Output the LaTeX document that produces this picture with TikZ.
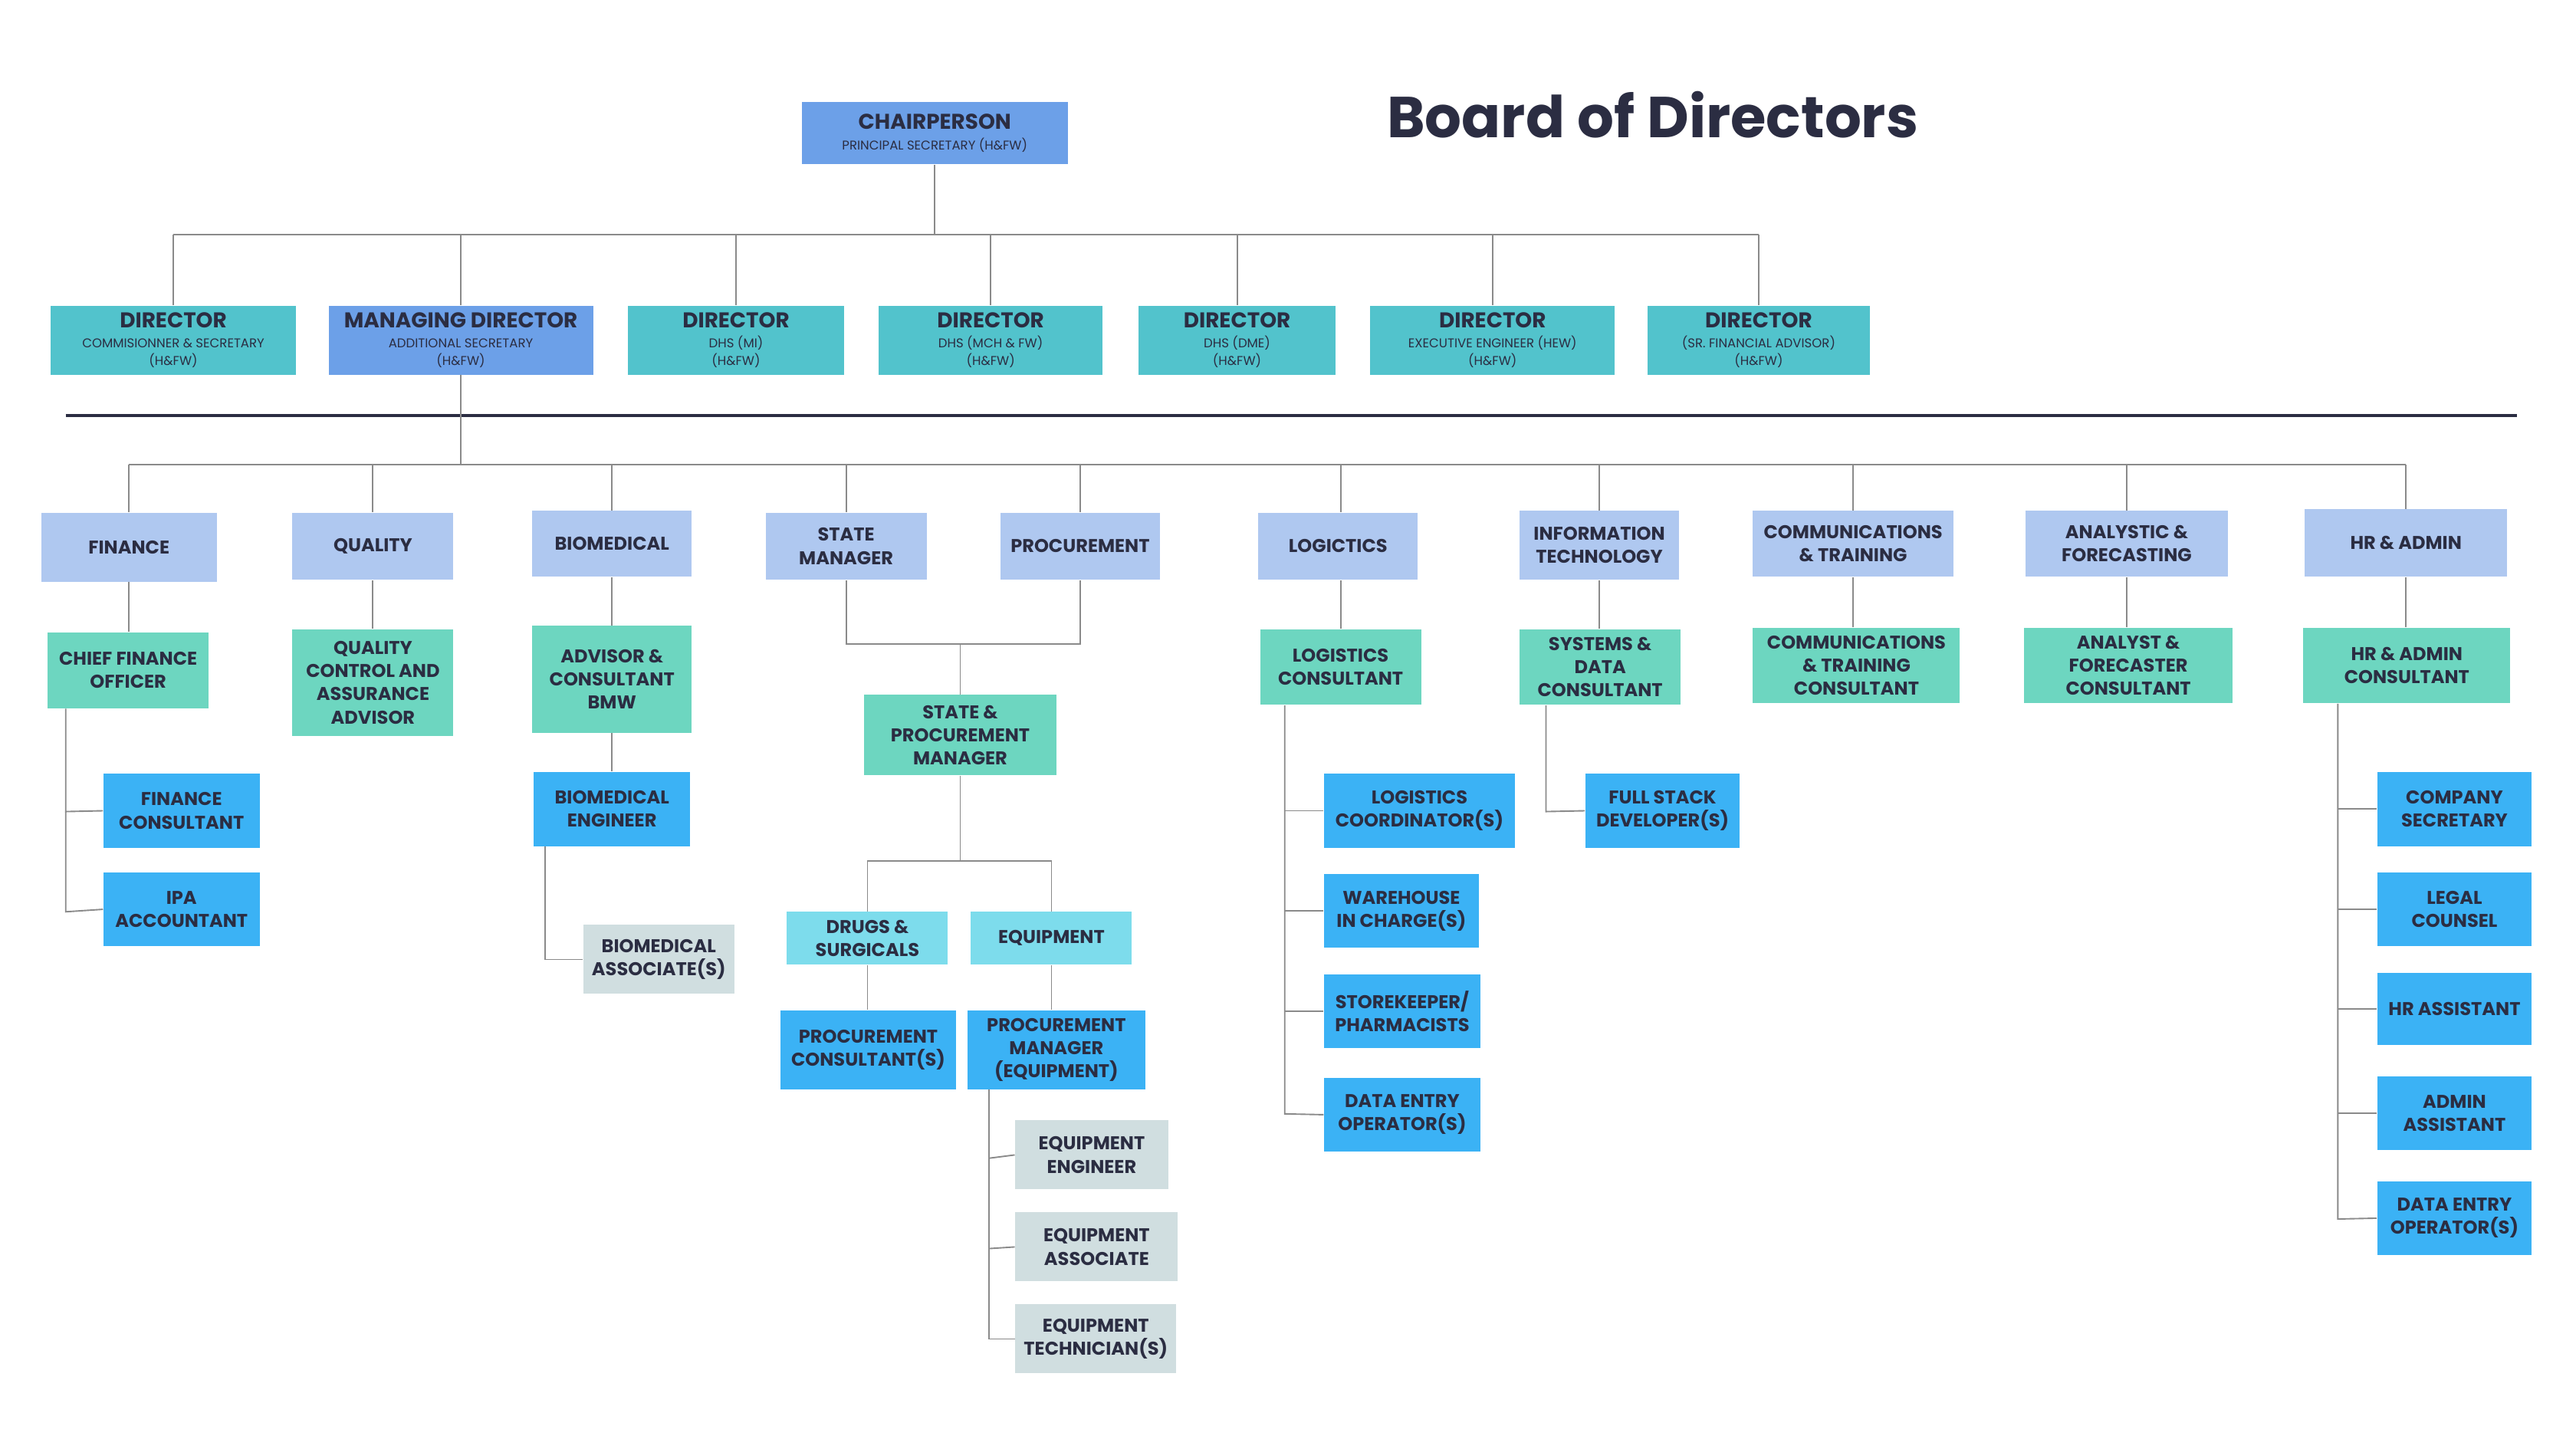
\documentclass[tikz,border=0pt]{standalone}
\usepackage{fontspec}
\setmainfont{Poppins}
\definecolor{navy}{HTML}{2B2D42}
\definecolor{topb}{HTML}{6CA0E8}
\definecolor{teal}{HTML}{52C3CC}
\definecolor{dept}{HTML}{AFC8F0}
\definecolor{mint}{HTML}{6DD6C0}
\definecolor{bright}{HTML}{3BB2F5}
\definecolor{greyb}{HTML}{D0DEE0}
\definecolor{cyanb}{HTML}{7DDCEC}
\definecolor{ln}{HTML}{8A8A8A}
\newcommand{\bx}[7]{\node[box,fill=#6,minimum width={(#4-#2)*0.02cm},minimum height={(#5-#3)*0.02cm}] (#1) at ({(#2+#4)/2},{(#3+#5)/2}) {#7};}
\newcommand{\sm}[1]{{\fontsize{4.4}{5.2}\selectfont\mdseries #1}}
\tikzset{box/.style={inner sep=0pt,align=center,text=navy,font=\fontsize{6.4}{8}\selectfont\bfseries},
 cn/.style={draw=ln,line width=0.5pt}}
\begin{document}
\begin{tikzpicture}[x=0.02cm,y=-0.02cm]
\useasboundingbox (0,0) rectangle (1568,882);
\fill[white] (0,0) rectangle (1568,882);
\node[text=navy,font=\fontsize{20}{24}\selectfont\bfseries] (title) at (1006,70) {Board of Directors};
\bx{chair}{488}{62}{650}{100}{topb}{\fontsize{7.4}{8.5}\selectfont CHAIRPERSON\\[-1pt]\sm{PRINCIPAL SECRETARY (H\&FW)}}
\bx{d1}{31}{186}{180}{228}{teal}{\fontsize{7.4}{8.5}\selectfont DIRECTOR\\[-1pt]\sm{COMMISIONNER \& SECRETARY}\\[-2pt]\sm{(H\&FW)}}
\bx{md}{200}{186}{361}{228}{topb}{\fontsize{7.4}{8.5}\selectfont MANAGING DIRECTOR\\[-1pt]\sm{ADDITIONAL SECRETARY}\\[-2pt]\sm{(H\&FW)}}
\bx{d3}{382}{186}{514}{228}{teal}{\fontsize{7.4}{8.5}\selectfont DIRECTOR\\[-1pt]\sm{DHS (MI)}\\[-2pt]\sm{(H\&FW)}}
\bx{d4}{535}{186}{671}{228}{teal}{\fontsize{7.4}{8.5}\selectfont DIRECTOR\\[-1pt]\sm{DHS (MCH \& FW)}\\[-2pt]\sm{(H\&FW)}}
\bx{d5}{693}{186}{813}{228}{teal}{\fontsize{7.4}{8.5}\selectfont DIRECTOR\\[-1pt]\sm{DHS (DME)}\\[-2pt]\sm{(H\&FW)}}
\bx{d6}{834}{186}{983}{228}{teal}{\fontsize{7.4}{8.5}\selectfont DIRECTOR\\[-1pt]\sm{EXECUTIVE ENGINEER (HEW)}\\[-2pt]\sm{(H\&FW)}}
\bx{d7}{1003}{186}{1138}{228}{teal}{\fontsize{7.4}{8.5}\selectfont DIRECTOR\\[-1pt]\sm{(SR. FINANCIAL ADVISOR)}\\[-2pt]\sm{(H\&FW)}}
\draw[cn] (chair.south) -- (chair.south |- 0,143);
\draw[cn] (d1.north |- 0,143) -- (d7.north |- 0,143);
\foreach \n in {d1,md,d3,d4,d5,d6,d7} \draw[cn] (\n.north) -- (\n.north |- 0,143);
\coordinate (hl1) at (40,253); \coordinate (hl2) at (1532,253);
\draw[navy,line width=1.2pt] (hl1) -- (hl2);
% departments
\bx{fin}{25}{312}{132}{354}{dept}{FINANCE}
\bx{qual}{178}{312}{276}{353}{dept}{QUALITY}
\bx{bio}{324}{311}{421}{351}{dept}{BIOMEDICAL}
\bx{sm}{466}{312}{564}{353}{dept}{STATE\\MANAGER}
\bx{proc}{609}{312}{706}{353}{dept}{PROCUREMENT}
\bx{log}{766}{312}{863}{353}{dept}{LOGICTICS}
\bx{it}{925}{311}{1022}{353}{dept}{INFORMATION\\TECHNOLOGY}
\bx{com}{1067}{311}{1189}{351}{dept}{COMMUNICATIONS\\\& TRAINING}
\bx{ana}{1233}{311}{1356}{351}{dept}{ANALYSTIC \&\\FORECASTING}
\bx{hr}{1403}{310}{1526}{351}{dept}{HR \& ADMIN}
\draw[cn] (md.south) -- (md.south |- 0,283);
\draw[cn] (fin.north |- 0,283) -- (hr.north |- 0,283);
\foreach \n in {fin,qual,bio,sm,proc,it,com,ana,hr} \draw[cn] (\n.north) -- (\n.north |- 0,283);
\draw[cn] (log.north -| 816,0) -- (816,283);
% mint
\bx{cfo}{29}{385}{127}{431}{mint}{CHIEF FINANCE\\OFFICER}
\bx{qcaa}{178}{383}{276}{448}{mint}{QUALITY\\CONTROL AND\\ASSURANCE\\ADVISOR}
\bx{bmw}{324}{381}{421}{446}{mint}{ADVISOR \&\\CONSULTANT\\BMW}
\bx{spm}{526}{423}{643}{472}{mint}{STATE \&\\PROCUREMENT\\MANAGER}
\bx{lc}{767}{383}{865}{429}{mint}{LOGISTICS\\CONSULTANT}
\bx{sdc}{925}{383}{1023}{429}{mint}{SYSTEMS \&\\DATA\\CONSULTANT}
\bx{ctc}{1067}{382}{1193}{428}{mint}{COMMUNICATIONS\\\& TRAINING\\CONSULTANT}
\bx{afc}{1232}{382}{1359}{428}{mint}{ANALYST \&\\FORECASTER\\CONSULTANT}
\bx{hrc}{1402}{382}{1528}{428}{mint}{HR \& ADMIN\\CONSULTANT}
\draw[cn] (fin.south) -- (cfo.north -| fin.south);
\foreach \a/\b in {qual/qcaa,bio/bmw,it/sdc,com/ctc,ana/afc,hr/hrc} \draw[cn] (\a.south) -- (\a.south |- \b.north);
\draw[cn] (log.south -| 816,0) -- (lc.north -| 816,0);
\draw[cn] (sm.south) -- (sm.south |- 0,392) -- (proc.south |- 0,392) -- (proc.south);
\draw[cn] (spm.north) -- (spm.north |- 0,392);
% finance
\bx{fc}{63}{471}{158}{516}{bright}{FINANCE\\CONSULTANT}
\bx{ipa}{63}{531}{158}{576}{bright}{IPA\\ACCOUNTANT}
\draw[cn] (cfo.south -| 40,0) -- (40,494) -- (fc.west);
\draw[cn] (40,494) -- (40,555) -- (ipa.west);
% biomedical
\bx{be}{325}{470}{420}{515}{bright}{BIOMEDICAL\\ENGINEER}
\bx{ba}{355}{563}{447}{605}{greyb}{BIOMEDICAL\\ASSOCIATE(S)}
\draw[cn] (bmw.south) -- (bmw.south |- be.north);
\draw[cn] (be.south -| 332,0) -- (332,584) -- (ba.west);
% procurement
\bx{drugs}{479}{555}{577}{587}{cyanb}{DRUGS \&\\SURGICALS}
\bx{equip}{591}{555}{689}{587}{cyanb}{EQUIPMENT}
\draw[cn] (spm.south) -- (spm.south |- 0,524);
\draw[cn] (drugs.north) -- (drugs.north |- 0,524) -- (equip.north |- 0,524) -- (equip.north);
\bx{pc}{475}{615}{582}{663}{bright}{PROCUREMENT\\CONSULTANT(S)}
\bx{pme}{589}{615}{697}{663}{bright}{PROCUREMENT\\MANAGER\\(EQUIPMENT)}
\draw[cn] (drugs.south) -- (drugs.south |- pc.north);
\draw[cn] (equip.south) -- (equip.south |- pme.north);
\bx{ee}{618}{682}{711}{724}{greyb}{EQUIPMENT\\ENGINEER}
\bx{ea}{618}{738}{717}{780}{greyb}{EQUIPMENT\\ASSOCIATE}
\bx{et}{618}{794}{716}{836}{greyb}{EQUIPMENT\\TECHNICIAN(S)}
\draw[cn] (pme.south -| 602,0) -- (602,815) -- (et.west);
\draw[cn] (602,705) -- (ee.west); \draw[cn] (602,760) -- (ea.west);
% logistics
\bx{lco}{806}{471}{922}{516}{bright}{LOGISTICS\\COORDINATOR(S)}
\bx{wh}{806}{532}{900}{577}{bright}{WAREHOUSE\\IN CHARGE(S)}
\bx{sk}{806}{593}{901}{638}{bright}{STOREKEEPER/\\PHARMACISTS}
\bx{deo}{806}{656}{901}{701}{bright}{DATA ENTRY\\OPERATOR(S)}
\draw[cn] (lc.south -| 782,0) -- (782,678) -- (deo.west);
\foreach \n in {lco,wh,sk} \draw[cn] (\n.west -| 782,0) -- (\n.west);
% IT
\bx{fs}{965}{471}{1059}{516}{bright}{FULL STACK\\DEVELOPER(S)}
\draw[cn] (sdc.south -| 941,0) -- (941,494) -- (fs.west);
% HR
\bx{cs}{1447}{470}{1541}{515}{bright}{COMPANY\\SECRETARY}
\bx{lg}{1447}{531}{1541}{576}{bright}{LEGAL\\COUNSEL}
\bx{ha}{1447}{592}{1541}{636}{bright}{HR ASSISTANT}
\bx{aa}{1447}{655}{1541}{700}{bright}{ADMIN\\ASSISTANT}
\bx{hdeo}{1447}{719}{1541}{764}{bright}{DATA ENTRY\\OPERATOR(S)}
\draw[cn] (hrc.south -| 1423,0) -- (1423,742) -- (hdeo.west);
\foreach \n in {cs,lg,ha,aa} \draw[cn] (\n.west -| 1423,0) -- (\n.west);
\end{tikzpicture}
\end{document}
